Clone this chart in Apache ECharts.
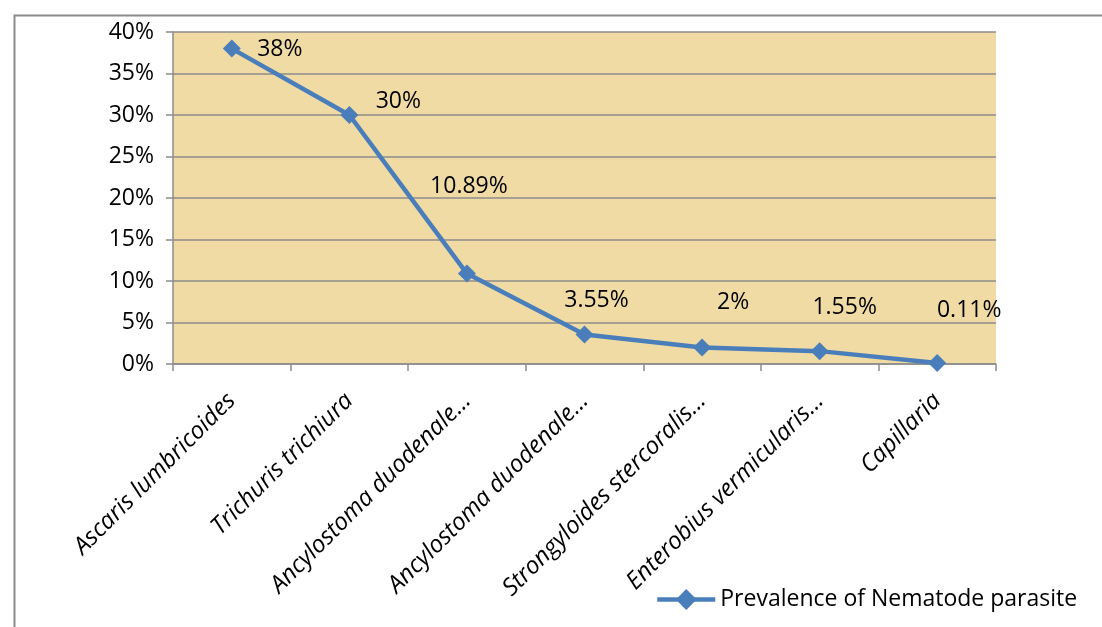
<!DOCTYPE html>
<html>
<head>
<meta charset="utf-8">
<script src="https://cdn.jsdelivr.net/npm/echarts@6/dist/echarts.min.js"></script>
<style>
html,body{margin:0;padding:0;background:#fff;}
#chart{width:1102px;height:627px;}
</style>
</head>
<body>
<div id="chart"></div>
<script>
const categories = [
  "Ascaris lumbricoides",
  "Trichuris trichiura",
  "Ancylostoma duodenale…",
  "Ancylostoma duodenale…",
  "Strongyloides stercoralis…",
  "Enterobius vermicularis…",
  "Capillaria"
];
const prevalence = [38, 30, 10.89, 3.55, 2, 1.55, 0.11];
const valueLabels = ["38%", "30%", "10.89%", "3.55%", "2%", "1.55%", "0.11%"];
const seriesName = "Prevalence of Nematode parasite";

// label placement (style only)
const labelOffsets = [[48,1],[49,-14],[2,-87],[12,-34],[31,-45],[25,-44],[32,-53]];

const FONT = "Open Sans";
const chart = echarts.init(document.getElementById('chart'), null, {renderer:'canvas'});
const option = {
  animation: false,
  backgroundColor: '#ffffff',
  textStyle: {fontFamily: FONT},
  graphic: [{
    type: 'rect', left: 12, top: 13, z: -1,
    shape: {width: 1200, height: 700},
    style: {fill: 'none', stroke: '#8c8c8c', lineWidth: 2}
  }],
  grid: {left: 173, right: 106, top: 32, bottom: 263, show: true,
         backgroundColor: '#F0DBA5', borderWidth: 0},
  xAxis: {
    type: 'category', data: categories, boundaryGap: true,
    axisLine: {lineStyle: {color: '#8c8c8c', width: 1.5}},
    axisTick: {show: true, alignWithLabel: false, length: 7, lineStyle: {color: '#8c8c8c', width: 1.5}},
    axisLabel: {rotate: 45, interval: 0, margin: 33, color: '#000', fontSize: 24,
                fontStyle: 'italic', fontFamily: FONT}
  },
  yAxis: {
    type: 'value', min: 0, max: 40, interval: 5,
    axisLine: {show: true, lineStyle: {color: '#8c8c8c', width: 1.5}},
    axisTick: {show: true, length: 7, lineStyle: {color: '#8c8c8c', width: 1.5}},
    splitLine: {show: true, lineStyle: {color: '#8c8c8c', width: 1.5}},
    axisLabel: {formatter: '{value}%', color: '#000', fontSize: 23, margin: 19, fontFamily: FONT}
  },
  legend: {
    show: true, left: 650, top: 583, itemWidth: 58, itemHeight: 26, itemGap: 4,
    textStyle: {fontSize: 23, color: '#000', fontFamily: FONT},
    lineStyle: {width: 4.5, color: '#4A7EBB'},
    itemStyle: {color: '#4A7EBB'},
    data: [seriesName]
  },
  series: [{
    name: seriesName, type: 'line',
    data: prevalence.map((v, i) => ({
      value: v,
      label: {show: true, position: 'inside', offset: labelOffsets[i],
              formatter: valueLabels[i]}
    })),
    symbol: 'diamond', symbolSize: 18,
    lineStyle: {color: '#4A7EBB', width: 4.5},
    itemStyle: {color: '#4A7EBB'},
    label: {show: true, color: '#000', fontSize: 23, fontFamily: FONT,
            align: 'center', verticalAlign: 'middle'}
  }]
};
chart.setOption(option);
</script>
</body>
</html>
